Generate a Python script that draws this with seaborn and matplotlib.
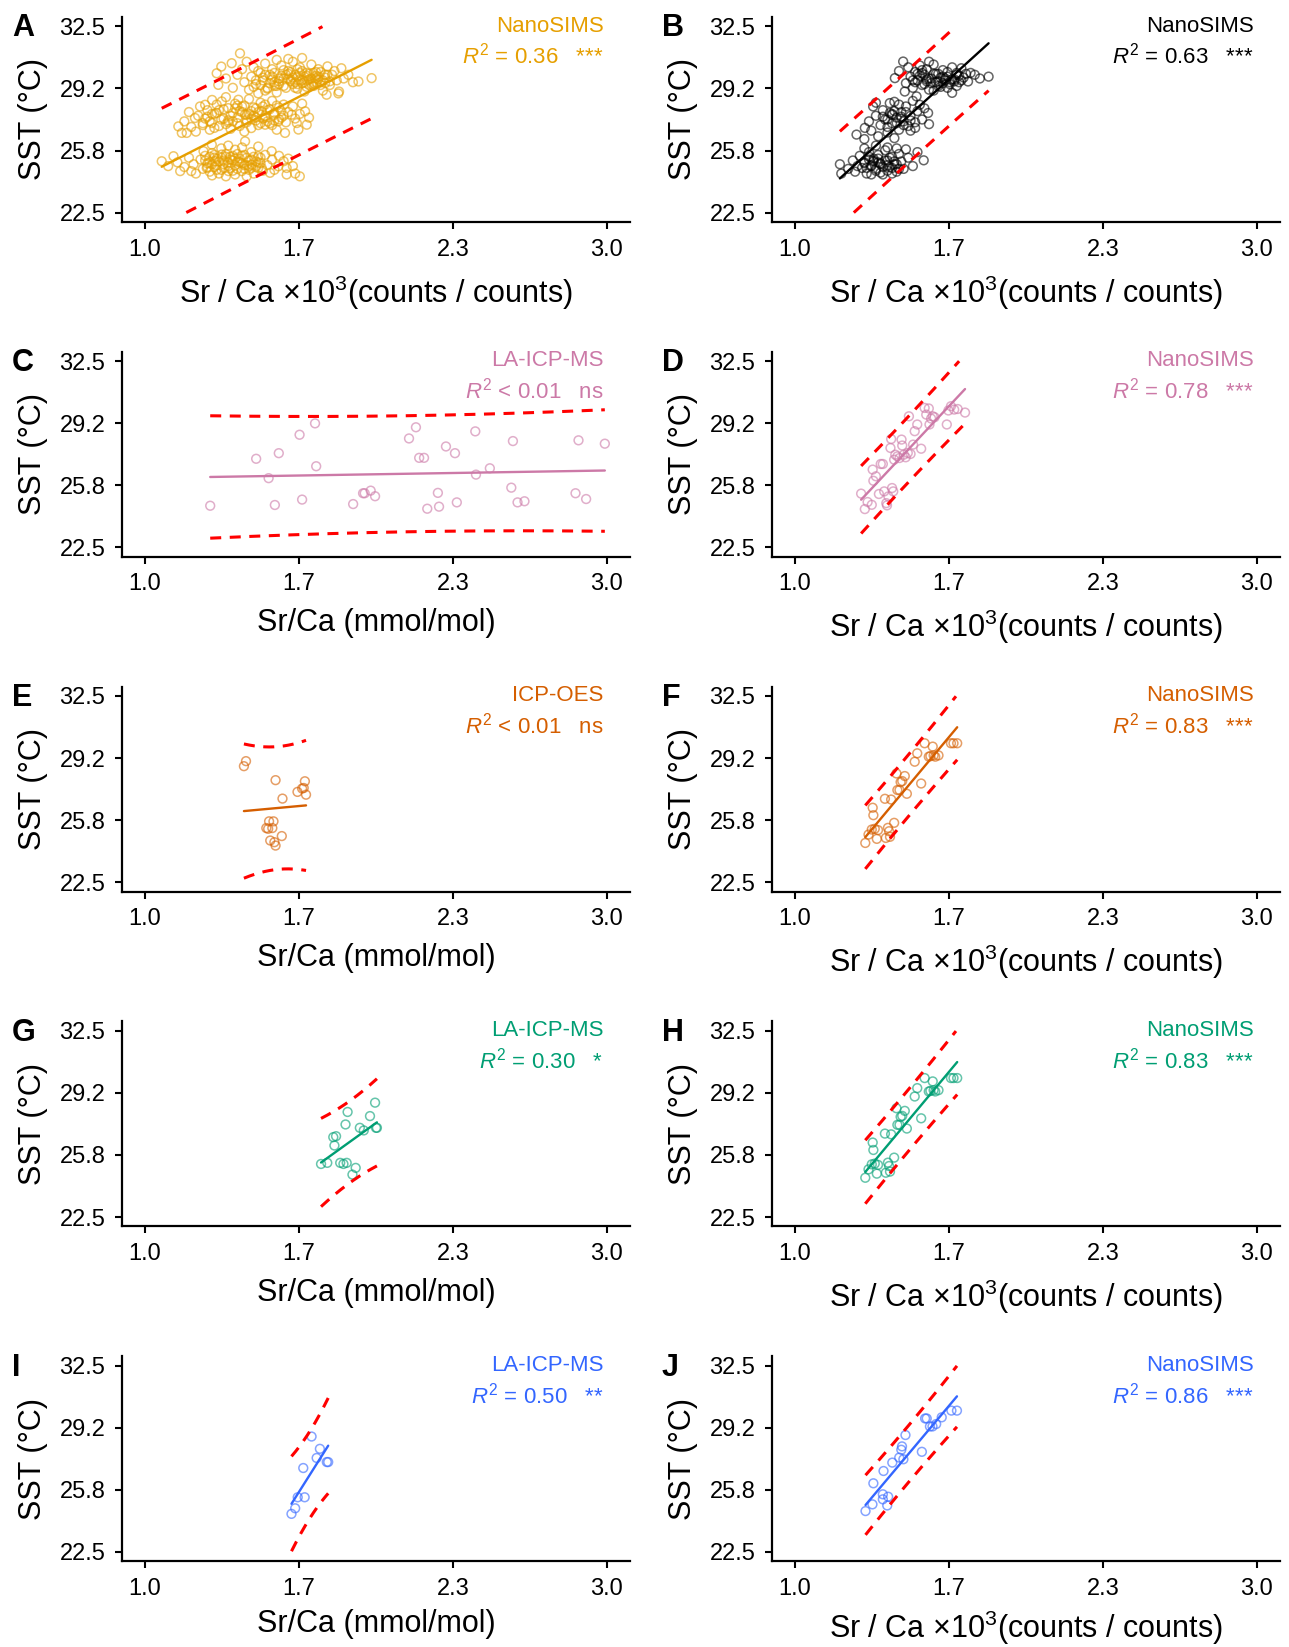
import numpy as np
import matplotlib
matplotlib.use('Agg')
import matplotlib.pyplot as plt
from matplotlib.ticker import FormatStrFormatter
import seaborn as sns

# ---- data (Sr/Ca vs SST) ----
# A: NanoSIMS, three SST groups (top, middle, bottom)
a_x = [1.31, 1.317, 1.33, 1.375, 1.411, 1.35, 1.38, 1.40, 1.42, 1.43, 1.44, 1.45, 1.46, 1.47, 1.48, 1.49, 1.50, 1.51,
       1.52, 1.53, 1.54, 1.55, 1.56, 1.57, 1.58, 1.59, 1.60, 1.61, 1.62, 1.63, 1.64, 1.65, 1.66, 1.67, 1.68, 1.69,
       1.70, 1.71, 1.72, 1.73, 1.74, 1.75, 1.76, 1.77, 1.78, 1.79, 1.80, 1.81, 1.82, 1.83, 1.84, 1.85, 1.86, 1.88,
       1.90, 1.924, 1.981, 1.837, 1.786, 1.57, 1.62, 1.68, 1.52, 1.47, 1.66, 1.74, 1.60, 1.55, 1.70, 1.78,
       1.48, 1.50, 1.52, 1.53, 1.55, 1.56, 1.58, 1.59, 1.61, 1.62, 1.63, 1.64, 1.65, 1.66, 1.67, 1.68, 1.69, 1.70,
       1.71, 1.72, 1.73, 1.74, 1.75, 1.76, 1.77, 1.79, 1.80, 1.49, 1.51, 1.54, 1.57, 1.60, 1.63, 1.65, 1.67, 1.69,
       1.71, 1.73, 1.75, 1.78, 1.62, 1.64, 1.66, 1.68, 1.58, 1.56, 1.70, 1.72, 1.74, 1.76,
       1.144, 1.159, 1.18, 1.216, 1.238, 1.26, 1.289, 1.332, 1.36, 1.404, 1.433, 1.46, 1.505, 1.52, 1.577, 1.606,
       1.635, 1.664, 1.693, 1.70, 1.657, 1.17, 1.19, 1.20, 1.22, 1.23, 1.25, 1.27, 1.28, 1.30, 1.31, 1.32, 1.34,
       1.35, 1.37, 1.38, 1.39, 1.40, 1.41, 1.42, 1.44, 1.45, 1.47, 1.48, 1.49, 1.50, 1.51, 1.53, 1.54, 1.55, 1.56,
       1.57, 1.58, 1.59, 1.60, 1.61, 1.62, 1.64, 1.65, 1.67, 1.68, 1.71, 1.43, 1.36, 1.29, 1.26, 1.46, 1.52,
       1.25, 1.27, 1.28, 1.30, 1.31, 1.33, 1.34, 1.35, 1.37, 1.38, 1.39, 1.40, 1.41, 1.42, 1.43, 1.44, 1.45, 1.46,
       1.47, 1.48, 1.49, 1.50, 1.51, 1.52, 1.53, 1.54, 1.55, 1.56, 1.57, 1.58, 1.59, 1.60, 1.29, 1.32, 1.36, 1.40,
       1.44, 1.48, 1.52, 1.56,
       1.072, 1.123, 1.152, 1.20, 1.253, 1.267, 1.289, 1.303, 1.332, 1.361, 1.39, 1.418, 1.433, 1.462, 1.49, 1.505,
       1.548, 1.577, 1.60, 1.613, 1.613, 1.541, 1.10, 1.14, 1.17, 1.19, 1.21, 1.22, 1.24, 1.25, 1.26, 1.27, 1.28,
       1.29, 1.30, 1.31, 1.32, 1.33, 1.34, 1.35, 1.36, 1.37, 1.38, 1.39, 1.40, 1.41, 1.42, 1.43, 1.44, 1.45, 1.46,
       1.47, 1.48, 1.49, 1.50, 1.51, 1.52, 1.53, 1.55, 1.56, 1.58, 1.62, 1.65, 1.67, 1.64, 1.35, 1.29, 1.44,
       1.26, 1.27, 1.28, 1.29, 1.30, 1.31, 1.32, 1.33, 1.34, 1.35, 1.36, 1.37, 1.38, 1.39, 1.40, 1.41, 1.42, 1.43,
       1.44, 1.45, 1.46, 1.47, 1.48, 1.49, 1.50, 1.28, 1.31, 1.34, 1.37, 1.40, 1.43, 1.46, 1.49, 1.33, 1.36, 1.39,
       1.42, 1.45, 1.30, 1.38]
a_y = [29.98, 29.36, 30.34, 30.52, 31.05, 29.7, 29.2, 29.9, 30.2, 29.5, 30.6, 29.1, 29.8, 30.3, 29.4, 28.9, 30.0, 29.6,
       30.5, 29.2, 29.9, 30.2, 29.5, 28.95, 29.7, 30.4, 29.3, 29.9, 30.1, 29.55, 30.6, 29.2, 29.8, 30.3, 29.45, 29.0,
       30.0, 29.65, 30.45, 29.3, 29.85, 30.2, 29.5, 29.05, 29.75, 30.35, 29.35, 29.9, 30.1, 29.6, 29.0, 30.25, 29.7, 29.9,
       29.5, 29.54, 29.72, 28.9, 28.83, 30.7, 30.75, 30.8, 29.05, 29.25, 29.4, 29.5, 29.7, 29.8, 29.6, 29.9,
       29.6, 29.35, 29.9, 29.15, 29.65, 30.0, 29.4, 29.85, 29.2, 29.7, 30.05, 29.4, 29.9, 29.15, 29.65, 30.1, 29.5, 29.25,
       29.95, 29.7, 29.45, 30.05, 29.8, 29.35, 29.6, 29.9, 29.55, 30.1, 29.75, 29.45, 29.3, 30.15, 29.65, 29.5, 30.0, 29.8,
       29.35, 30.0, 29.65, 29.45, 29.95, 29.75, 30.2, 29.6, 29.55, 29.3, 29.85, 29.4, 29.7, 30.05,
       27.13, 26.78, 26.78, 27.58, 28.2, 28.29, 27.31, 28.47, 28.11, 28.56, 27.76, 27.04, 27.94, 27.22, 27.4, 26.78,
       27.76, 26.96, 27.94, 27.22, 27.31, 27.4, 27.9, 27.1, 26.85, 27.7, 27.3, 28.0, 26.95, 27.8, 28.3, 27.15, 27.55,
       28.7, 27.0, 27.85, 28.35, 27.3, 27.95, 28.2, 27.45, 28.6, 27.7, 28.1, 27.2, 28.4, 27.55, 28.0, 27.3, 28.5, 27.75,
       26.95, 28.15, 27.6, 28.3, 27.35, 27.9, 28.2, 27.55, 27.8, 28.35, 27.6, 26.85, 27.35, 28.55, 27.55, 27.95, 27.7,
       27.2, 27.65, 27.4, 27.05, 27.85, 27.5, 28.05, 27.25, 27.7, 27.4, 28.1, 27.6, 27.15, 27.9, 28.25, 27.35, 27.8, 27.55,
       28.15, 27.45, 27.9, 27.3, 28.2, 27.6, 27.4, 28.05, 27.2, 27.85, 28.25, 27.5, 27.95, 27.7, 27.8, 28.0, 27.45, 28.25,
       27.75, 27.6, 28.3, 27.45,
       25.26, 25.53, 24.73, 24.73, 25.8, 24.9, 26.15, 25.26, 25.62, 24.73, 25.88, 24.73, 26.33, 25.08, 25.53, 24.9,
       25.8, 24.99, 25.26, 24.55, 24.9, 24.64, 25.0, 25.2, 24.95, 25.45, 25.1, 24.6, 25.35, 24.85, 25.55, 25.15, 24.7,
       25.7, 24.95, 25.4, 24.6, 25.95, 25.1, 25.5, 26.1, 24.9, 25.3, 24.55, 25.65, 25.2, 26.0, 24.85, 25.45, 25.0, 25.75,
       24.6, 25.25, 26.05, 25.15, 24.75, 25.6, 25.05, 25.35, 24.8, 25.55, 25.4, 24.6, 24.45, 25.0, 24.45, 24.5, 24.45,
       25.3, 24.95, 25.5, 25.1, 25.6, 24.8, 25.25, 25.45, 24.9, 25.65, 25.0, 25.35, 25.55, 25.05, 24.85, 25.4, 25.15, 25.6,
       25.05, 25.3, 24.9, 25.5, 24.95, 25.2, 25.45, 25.2, 25.05, 25.3, 25.5, 25.25, 25.05, 25.35, 24.9, 24.8, 25.2, 25.4,
       25.55, 24.8, 25.45, 24.75]

# B: NanoSIMS (black)
b_x = [1.432, 1.468, 1.475, 1.45, 1.48, 1.49, 1.50, 1.51, 1.52, 1.526, 1.53, 1.54, 1.55, 1.56, 1.57, 1.58, 1.59, 1.60,
       1.61, 1.62, 1.63, 1.64, 1.65, 1.66, 1.67, 1.68, 1.68, 1.69, 1.70, 1.71, 1.72, 1.73, 1.749, 1.76, 1.778, 1.80,
       1.838, 1.57, 1.62, 1.66, 1.53, 1.58, 1.64, 1.70, 1.51, 1.60, 1.74, 1.55,
       1.52, 1.54, 1.56, 1.58, 1.60, 1.62, 1.64, 1.66, 1.68, 1.70, 1.72, 1.55, 1.59, 1.63, 1.67, 1.71, 1.57, 1.61,
       1.65, 1.69,
       1.266, 1.302, 1.338, 1.41, 1.54, 1.576, 1.30, 1.32, 1.33, 1.35, 1.36, 1.37, 1.38, 1.39, 1.40, 1.41, 1.42, 1.43,
       1.44, 1.45, 1.46, 1.47, 1.48, 1.49, 1.50, 1.51, 1.52, 1.53, 1.55, 1.56, 1.58, 1.35, 1.40, 1.46, 1.43, 1.50,
       1.38, 1.45, 1.52, 1.42, 1.40, 1.42, 1.44, 1.46, 1.48, 1.50, 1.43, 1.47,
       1.194, 1.20, 1.23, 1.25, 1.26, 1.27, 1.28, 1.29, 1.30, 1.31, 1.32, 1.33, 1.34, 1.35, 1.36, 1.37, 1.38, 1.39,
       1.40, 1.41, 1.42, 1.43, 1.44, 1.45, 1.46, 1.47, 1.49, 1.51, 1.53, 1.557, 1.35, 1.40, 1.30, 1.44, 1.37, 1.42,
       1.33, 1.48, 1.30, 1.31, 1.32, 1.33, 1.34, 1.35, 1.36, 1.37, 1.38, 1.39, 1.40, 1.41, 1.42, 1.43, 1.44, 1.45,
       1.32, 1.36, 1.40, 1.34]
b_y = [29.72, 30.61, 29.0, 30.1, 29.45, 30.3, 29.8, 29.2, 30.05, 28.74, 29.6, 30.4, 29.35, 29.9, 30.2, 29.1, 29.7, 30.45,
       29.5, 29.95, 29.25, 30.15, 29.6, 29.8, 29.4, 28.93, 30.3, 29.65, 30.0, 29.5, 30.25, 29.75, 29.54, 30.0, 29.9, 29.7,
       29.8, 29.55, 29.3, 29.2, 29.95, 30.6, 29.45, 29.3, 29.6, 29.05, 29.95, 30.15,
       29.5, 29.85, 29.4, 29.7, 29.95, 29.55, 29.8, 30.05, 29.65, 29.9, 29.6, 30.0, 29.45, 29.75, 29.5, 29.85, 29.65, 29.95,
       29.7, 29.55,
       26.69, 27.05, 28.2, 28.38, 28.29, 27.85, 26.45, 27.4, 26.9, 27.7, 26.6, 27.2, 28.0, 27.5, 26.8, 27.85, 27.3, 28.45,
       27.6, 26.95, 27.9, 27.4, 28.2, 27.15, 27.7, 28.5, 27.35, 27.95, 27.5, 28.1, 27.25, 28.4, 27.1, 27.55, 26.5, 26.9,
       27.65, 28.3, 27.05, 27.75, 27.5, 27.8, 27.3, 27.65, 27.9, 27.45, 27.95, 27.2,
       25.1, 24.6, 24.85, 25.3, 24.7, 25.0, 25.55, 24.9, 25.2, 24.6, 25.75, 25.05, 25.4, 24.75, 25.6, 25.15, 24.55, 25.85,
       25.3, 24.95, 25.5, 25.1, 24.7, 25.65, 25.25, 24.85, 25.45, 25.0, 25.75, 25.31, 26.1, 26.0, 25.95, 25.95, 24.65, 24.6,
       24.55, 25.9, 25.15, 24.9, 25.35, 25.0, 25.25, 24.85, 25.4, 25.1, 24.95, 25.3, 25.05, 25.45, 24.9, 25.25, 25.1, 24.85,
       25.5, 25.2, 24.75, 25.3]

# C: LA-ICP-MS
c_x = [1.282, 1.481, 1.535, 1.579, 1.562, 1.669, 1.680, 1.736, 1.741, 1.901, 1.944, 1.951, 1.977, 1.996, 2.143, 2.173,
       2.187, 2.208, 2.222, 2.268, 2.273, 2.303, 2.342, 2.350, 2.430, 2.433, 2.493, 2.586, 2.593, 2.613, 2.643, 2.864,
       2.877, 2.910, 2.991]
c_y = [24.74, 27.26, 26.22, 27.56, 24.78, 28.55, 25.07, 29.16, 26.86, 24.83, 25.41, 25.41, 25.55, 25.25, 28.35, 28.95,
       27.31, 27.31, 24.58, 25.43, 24.69, 27.92, 27.56, 24.92, 28.73, 26.41, 26.75, 25.71, 28.21, 24.92, 24.98, 25.41,
       28.25, 25.10, 28.07]

# D: NanoSIMS
d_x = [1.286, 1.302, 1.314, 1.332, 1.336, 1.339, 1.350, 1.363, 1.371, 1.380, 1.386, 1.395, 1.398, 1.404, 1.413, 1.416,
       1.420, 1.425, 1.429, 1.434, 1.443, 1.452, 1.461, 1.464, 1.471, 1.479, 1.488, 1.493, 1.500, 1.511, 1.518, 1.529,
       1.546, 1.561, 1.568, 1.579, 1.582, 1.589, 1.596, 1.604, 1.657, 1.664, 1.675, 1.689, 1.704, 1.736]
d_y = [25.39, 24.56, 24.94, 24.79, 26.68, 26.08, 26.32, 25.37, 26.98, 26.98, 25.51, 24.88, 24.76, 25.24, 27.84, 28.32,
       25.69, 25.51, 27.21, 27.48, 27.39, 27.30, 28.29, 27.97, 27.48, 27.34, 27.57, 29.54, 27.52, 28.02, 28.74, 29.10,
       27.80, 29.99, 29.63, 29.96, 29.10, 29.42, 29.54, 29.49, 29.10, 29.85, 30.08, 29.90, 29.93, 29.74]

# E: ICP-OES
e_x = [1.428, 1.437, 1.565, 1.595, 1.660, 1.680, 1.687, 1.692, 1.697, 1.537, 1.556, 1.525, 1.533, 1.551, 1.542, 1.560,
       1.565, 1.592]
e_y = [28.73, 29.00, 27.98, 26.99, 27.35, 27.53, 27.56, 27.92, 27.20, 25.77, 25.77, 25.41, 25.37, 25.41, 24.74, 24.65,
       24.47, 24.98]

# F and H: NanoSIMS (same samples)
f_x = [1.304, 1.318, 1.332, 1.336, 1.339, 1.345, 1.354, 1.359, 1.389, 1.393, 1.402, 1.407, 1.411, 1.416, 1.429, 1.439,
       1.443, 1.452, 1.457, 1.464, 1.475, 1.484, 1.518, 1.529, 1.546, 1.561, 1.579, 1.586, 1.596, 1.600, 1.607, 1.621,
       1.675, 1.686, 1.702]
f_y = [24.61, 25.06, 25.33, 26.50, 26.10, 25.37, 24.83, 25.30, 26.98, 24.88, 25.42, 25.24, 24.94, 26.94, 25.69, 28.34,
       27.45, 27.45, 27.88, 27.93, 28.20, 27.25, 28.97, 29.42, 27.80, 29.96, 29.24, 29.27, 29.78, 29.31, 29.24, 29.31,
       29.96, 29.96, 29.96]

# G: LA-ICP-MS
g_x = [1.762, 1.789, 1.815, 1.827, 1.820, 1.845, 1.859, 1.873, 1.868, 1.877, 1.898, 1.912, 1.930, 1.947, 1.974, 1.996,
       2.000, 2.004]
g_y = [25.35, 25.41, 26.79, 26.84, 26.34, 25.41, 25.35, 25.41, 27.47, 28.14, 24.78, 25.14, 27.29, 27.15, 27.92, 28.64,
       27.29, 27.29]

# I: LA-ICP-MS
i_x = [1.634, 1.650, 1.661, 1.691, 1.685, 1.721, 1.743, 1.757, 1.787, 1.793]
i_y = [24.54, 24.84, 25.43, 25.43, 27.00, 28.69, 27.54, 28.03, 27.32, 27.32]

# J: NanoSIMS
j_x = [1.305, 1.335, 1.339, 1.380, 1.380, 1.383, 1.399, 1.403, 1.421, 1.451, 1.460, 1.463, 1.469, 1.478, 1.549, 1.563,
       1.570, 1.584, 1.595, 1.611, 1.635, 1.677, 1.701]
j_y = [24.69, 25.05, 26.18, 25.59, 25.32, 26.84, 24.99, 25.46, 27.29, 27.56, 27.98, 28.16, 27.47, 28.77, 27.87, 29.66,
       29.66, 29.23, 29.23, 29.36, 29.72, 30.08, 30.08]

letters = ['A', 'B', 'C', 'D', 'E', 'F', 'G', 'H', 'I', 'J']
methods = ['NanoSIMS', 'NanoSIMS', 'LA-ICP-MS', 'NanoSIMS', 'ICP-OES', 'NanoSIMS', 'LA-ICP-MS', 'NanoSIMS',
           'LA-ICP-MS', 'NanoSIMS']
r2_text = ['= 0.36', '= 0.63', '< 0.01', '= 0.78', '< 0.01', '= 0.83', '= 0.30', '= 0.83', '= 0.50', '= 0.86']
signif = ['***', '***', 'ns', '***', 'ns', '***', '*', '***', '**', '***']
colors = ['#E69F00', '#000000', '#CC79A7', '#CC79A7', '#D55E00', '#D55E00', '#009E73', '#009E73', '#3366FF', '#3366FF']
xs_data = [a_x, b_x, c_x, d_x, e_x, f_x, g_x, f_x, i_x, j_x]
ys_data = [a_y, b_y, c_y, d_y, e_y, f_y, g_y, f_y, i_y, j_y]

lab_mmol = 'Sr/Ca (mmol/mol)'
lab_counts = 'Sr / Ca ×10$^{3}$(counts / counts)'
xlabels = [lab_counts, lab_counts, lab_mmol, lab_counts, lab_mmol, lab_counts, lab_mmol, lab_counts, lab_mmol, lab_counts]

sns.set_theme(style='ticks')
plt.rcParams['font.family'] = ['Liberation Sans', 'DejaVu Sans']
plt.rcParams['mathtext.fontset'] = 'custom'
plt.rcParams['mathtext.rm'] = 'Liberation Sans'
plt.rcParams['mathtext.it'] = 'Liberation Sans:italic'


def t975(df):
    # Cornish-Fisher expansion of the t quantile
    z = 1.959964
    return (z + (z**3 + z) / (4 * df) + (5 * z**5 + 16 * z**3 + 3 * z) / (96 * df**2)
            + (3 * z**7 + 19 * z**5 + 17 * z**3 - 15 * z) / (384 * df**3))


def fit_lines(x, y):
    # OLS fit and 95% prediction interval
    x = np.asarray(x, float)
    y = np.asarray(y, float)
    n = len(x)
    xb, yb = x.mean(), y.mean()
    sxx = ((x - xb) ** 2).sum()
    b1 = ((x - xb) * (y - yb)).sum() / sxx
    b0 = yb - b1 * xb
    s = np.sqrt(((y - b0 - b1 * x) ** 2).sum() / (n - 2))
    grid = np.linspace(x.min(), x.max(), 300)
    yhat = b0 + b1 * grid
    half = t975(n - 2) * s * np.sqrt(1 + 1 / n + (grid - xb) ** 2 / sxx)
    return grid, yhat, yhat - half, yhat + half


W, H = 1289, 1647
fig = plt.figure(figsize=(W / 100, H / 100), dpi=100)
lefts = [122 / W, 772 / W]
width = 508 / W
height = 205 / H

for i in range(10):
    row, col = divmod(i, 2)
    top = 17 + 334.8 * row
    ax = fig.add_axes([lefts[col], 1 - (top + 205) / H, width, height])
    c = colors[i]

    sns.scatterplot(x=xs_data[i], y=ys_data[i], ax=ax, s=40, marker='o', facecolor='none',
                    edgecolor=c, linewidth=1.1, alpha=0.6, zorder=2)

    grid, yhat, lo, hi = fit_lines(xs_data[i], ys_data[i])
    for band in (lo, hi):
        keep = (band >= 22.5) & (band <= 32.5)
        sns.lineplot(x=grid[keep], y=band[keep], ax=ax, color='red', linewidth=2.2,
                     estimator=None, sort=False, linestyle='--', zorder=3)
        ax.lines[-1].set_dashes([3.6, 2.8])
    keep = (yhat >= 22.5) & (yhat <= 32.5)
    sns.lineplot(x=grid[keep], y=yhat[keep], ax=ax, color=c, linewidth=1.7,
                 estimator=None, sort=False, zorder=3)

    ax.set_xlim(0.9, 3.1)
    ax.set_ylim(22, 33)
    ax.set_xticks(np.linspace(1, 3, 4))
    ax.set_yticks(np.linspace(22.5, 32.5, 4))
    ax.xaxis.set_major_formatter(FormatStrFormatter('%.1f'))
    ax.yaxis.set_major_formatter(FormatStrFormatter('%.1f'))
    sns.despine(ax=ax)
    for sp in ('left', 'bottom'):
        ax.spines[sp].set_linewidth(1.6)
        ax.spines[sp].set_color('black')
    ax.tick_params(length=5, width=1.5, labelsize=17, pad=7, colors='black')

    ax.set_xlabel(xlabels[i], fontsize=22, color='black')
    ax.set_ylabel('SST (°C)', fontsize=22, color='black')
    # last row sits at the figure edge, keep its label inside
    ax.xaxis.set_label_coords(0.5, -0.232 if row == 4 else -0.25)
    ax.yaxis.set_label_coords(-0.145, 0.5)

    ax.text(0.948, 0.956, methods[i], transform=ax.transAxes, ha='right', va='center',
            fontsize=16, color=c)
    ax.text(0.948, 0.81, r'$R^2$ ' + r2_text[i] + '   ' + signif[i], transform=ax.transAxes,
            ha='right', va='center', fontsize=16, color=c)

    fig.text((lefts[col] * W - 110) / W, 1 - (top + 11.5) / H, letters[i], fontsize=22,
             fontweight='bold', ha='left', va='center', color='black')

fig.savefig('out.png', dpi=100, facecolor='white')
